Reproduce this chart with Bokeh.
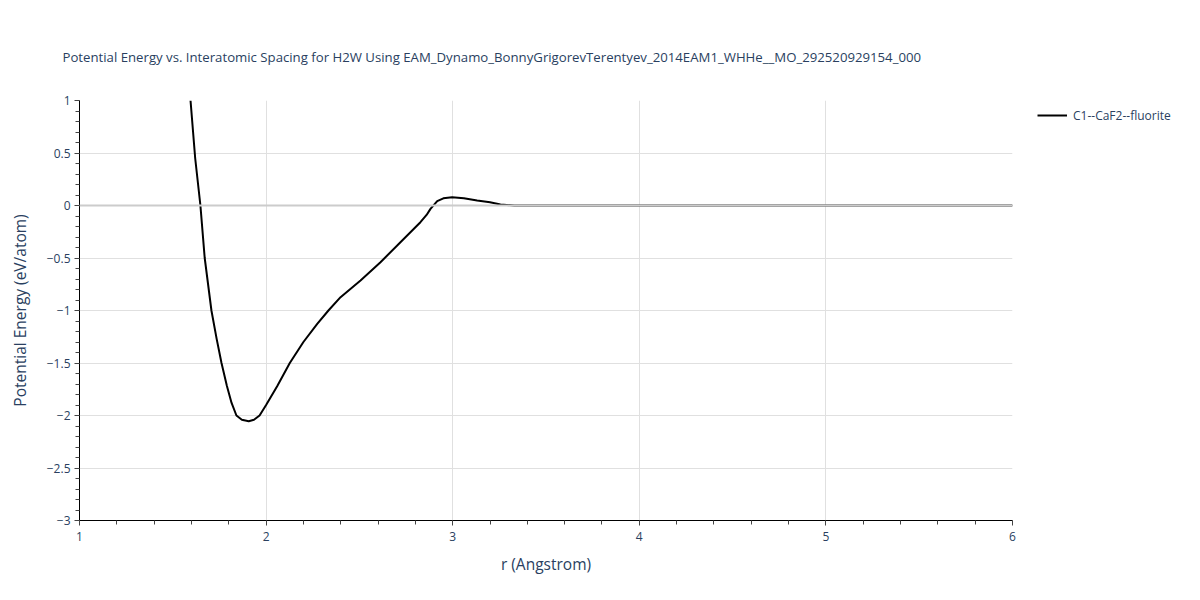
from bokeh.plotting import figure
from bokeh.models import Range1d, FixedTicker, Legend, LegendItem, Span
from bokeh.layouts import row
from bokeh.embed import file_html
from bokeh.resources import INLINE

# --- data ---
r_values = [1.595, 1.62, 1.648, 1.671, 1.707, 1.735, 1.761, 1.79, 1.815, 1.841,
            1.87, 1.907, 1.935, 1.965, 2.0, 2.06, 2.127, 2.2, 2.274, 2.334,
            2.399, 2.506, 2.613, 2.72, 2.827, 2.86, 2.881, 2.917, 2.95, 2.997,
            3.06, 3.131, 3.2, 3.256, 3.33, 3.5, 4.0, 5.0, 6.0]
energy_values = [1.0, 0.45, 0.0, -0.5, -1.0, -1.27, -1.5, -1.72, -1.88, -2.0,
                 -2.04, -2.054, -2.04, -2.0, -1.9, -1.72, -1.5, -1.3, -1.127, -1.0,
                 -0.873, -0.714, -0.54, -0.35, -0.159, -0.09, -0.032, 0.041, 0.068, 0.079,
                 0.07, 0.048, 0.03, 0.01, 0.0, 0.0, 0.0, 0.0, 0.0]
series_name = "C1--CaF2--fluorite"
x_ticks = [1, 2, 3, 4, 5, 6]
y_ticks = [1, 0.5, 0, -0.5, -1, -1.5, -2, -2.5, -3]
y_tick_labels = ["1", "0.5", "0", "\u22120.5", "\u22121", "\u22121.5", "\u22122", "\u22122.5", "\u22123"]
title_text = ("Potential Energy vs. Interatomic Spacing for H2W Using "
              "EAM_Dynamo_BonnyGrigorevTerentyev_2014EAM1_WHHe__MO_292520929154_000")

TXT = "#2a3f5f"
FONT = "Open Sans"

p = figure(frame_width=933, frame_height=420, output_backend="svg", toolbar_location=None,
           x_range=Range1d(1, 6), y_range=Range1d(-3, 1),
           min_border_left=79, min_border_right=12, min_border_top=100, min_border_bottom=64)
p.outline_line_color = None

p.title.text = title_text
p.title.text_font = FONT
p.title.text_font_size = "13.2px"
p.title.text_font_style = "normal"
p.title.text_color = TXT
p.title.align = "left"
p.title.offset = -17
p.title.standoff = 69

x_minor = [1 + 0.2 * i for i in range(26)]
y_minor = [-3 + 0.1 * i for i in range(41)]
p.xaxis.ticker = FixedTicker(ticks=x_ticks, minor_ticks=x_minor)
p.yaxis.ticker = FixedTicker(ticks=y_ticks, minor_ticks=y_minor)
p.yaxis.major_label_overrides = {t: l for t, l in zip(y_ticks, y_tick_labels)}

for ax in (p.xaxis[0], p.yaxis[0]):
    ax.axis_line_color = "black"
    ax.axis_line_width = 1
    ax.major_tick_line_color = "#444444"
    ax.minor_tick_line_color = "#444444"
    ax.major_tick_out = 5
    ax.major_tick_in = 0
    ax.minor_tick_out = 4
    ax.minor_tick_in = 0
    ax.major_label_text_font = FONT
    ax.major_label_text_font_size = "12px"
    ax.major_label_text_color = TXT
    ax.axis_label_text_font = FONT
    ax.axis_label_text_font_size = "15.5px"
    ax.axis_label_text_font_style = "normal"
    ax.axis_label_text_color = TXT

p.xaxis.axis_label = "r (Angstrom)"
p.yaxis.axis_label = "Potential Energy (eV/atom)"
p.xaxis.major_label_standoff = 6
p.yaxis.major_label_standoff = 4
p.xaxis.axis_label_standoff = 9
p.yaxis.axis_label_standoff = 13

p.xgrid.grid_line_color = "#e0e0e0"
p.ygrid.grid_line_color = "#e0e0e0"
p.xgrid.ticker = FixedTicker(ticks=x_ticks)
p.ygrid.ticker = FixedTicker(ticks=[t for t in y_ticks if t != 0])

zero = Span(location=0, dimension="width", line_color="#cccccc", line_width=2)
p.add_layout(zero)

p.line(r_values, energy_values, line_color="black", line_width=2)

# legend panel to the right of the plot area (its own ranges keep the key line out of view)
pl = figure(width=160, height=584, output_backend="svg", toolbar_location=None,
            x_axis_type=None, y_axis_type=None,
            x_range=Range1d(100, 101), y_range=Range1d(100, 101),
            min_border_left=0, min_border_right=0, min_border_top=0, min_border_bottom=0)
pl.outline_line_color = None
pl.grid.visible = False
key = pl.line(r_values, energy_values, line_color="black", line_width=2)

legend = Legend(items=[LegendItem(label=series_name, renderers=[key])],
                location=(8, 390), margin=0, padding=5, glyph_width=30,
                glyph_height=20, label_standoff=6, border_line_alpha=0,
                background_fill_alpha=0, label_text_font=FONT,
                label_text_font_size="12px", label_text_color=TXT)
pl.add_layout(legend)

layout = row(p, pl, spacing=0)
open("out.html", "w").write(file_html(layout, INLINE))
